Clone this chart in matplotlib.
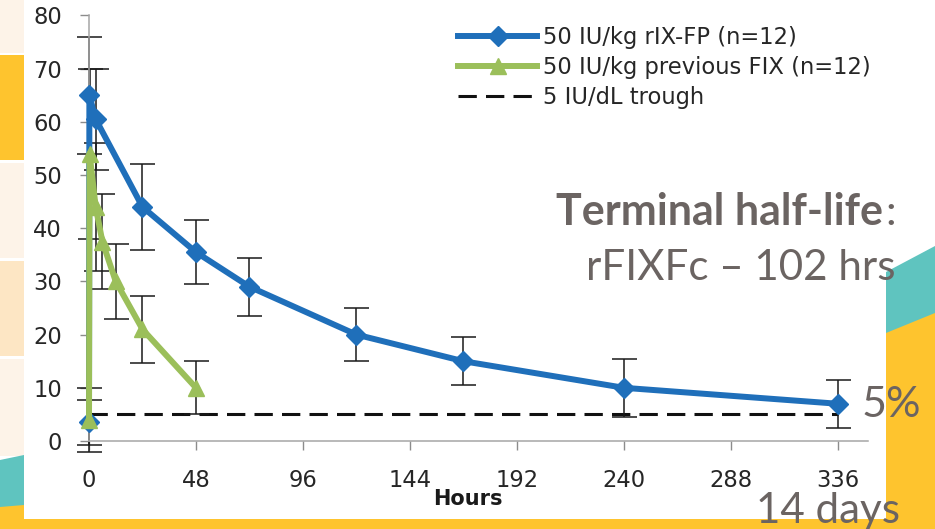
import matplotlib
matplotlib.use("Agg")
from matplotlib import pyplot as plt
from matplotlib.patches import Rectangle, Polygon

# mean FIX activity (IU/dL) with error bars
hours_fp = [0, 0.17, 3, 24, 48, 72, 120, 168, 240, 336]
fix_fp = [3.5, 65, 60.5, 44, 35.5, 29, 20, 15, 10, 7]
err_fp = [4.2, 11, 9.5, 8, 6, 5.5, 5, 4.5, 5.5, 4.5]

hours_prev = [0, 0.25, 3, 6, 12, 24, 48]
fix_prev = [4, 54, 44, 37.5, 30, 21, 10]
err_prev = [6, 16, 12, 9, 7, 6.3, 5]

trough_hours = [0, 336]
trough_level = [5, 5]

xticks = [0, 48, 96, 144, 192, 240, 288, 336]
yticks = [0, 10, 20, 30, 40, 50, 60, 70, 80]
labels = ["50 IU/kg rIX-FP (n=12)", "50 IU/kg previous FIX (n=12)", "5 IU/dL trough"]

W, H = 935, 529
blue = "#1f6fba"
green = "#9bbf5a"
gold = "#fec42e"
teal = "#5fc4bf"
cream = "#fdf3e8"
peach = "#fde6c4"
grey_txt = "#6b6462"

fig = plt.figure(figsize=(W / 100, H / 100), dpi=100)

# slide background in pixel coords, y pointing down
bg = fig.add_axes([0, 0, 1, 1])
bg.set_xlim(0, W)
bg.set_ylim(H, 0)
bg.axis("off")
bg.add_patch(Rectangle((0, 0), W, H, color="white", lw=0))
for y0, y1, c in [(0, 53, cream), (55, 160, gold), (163, 258, cream), (261, 356, peach), (359, 456, cream)]:
    bg.add_patch(Rectangle((0, y0), 24, y1 - y0, color=c, lw=0))
bg.add_patch(Polygon([(0, 460), (24, 455), (24, 519), (0, 519)], color=teal, lw=0))
bg.add_patch(Polygon([(0, 507), (24, 505), (24, 529), (0, 529)], color=gold, lw=0))
bg.add_patch(Polygon([(886, 272), (935, 246), (935, 529), (886, 529)], color=teal, lw=0))
bg.add_patch(Polygon([(886, 333), (935, 313), (935, 529), (886, 529)], color=gold, lw=0))
bg.add_patch(Rectangle((0, 519), W, 10, color=gold, lw=0))

bg.text(556, 225, "Terminal half-life", family="Lato", weight="bold", fontsize=31, color=grey_txt, va="baseline", zorder=10)
bg.text(885, 225, ":", family="Lato", fontsize=31, color=grey_txt, va="baseline", zorder=10)
bg.text(586, 280, "rFIXFc \u2013 102 hrs", family="Lato", fontsize=30.3, color=grey_txt, va="baseline", zorder=10)
bg.text(862, 417, "5%", family="Lato", fontsize=31, color=grey_txt, va="baseline", zorder=10)
bg.text(756, 523, "14 days", family="Lato", fontsize=30.3, color=grey_txt, va="baseline", zorder=10)
bg.text(468, 505, "Hours", fontsize=15, weight="bold", color="#1a1a1a", ha="center", va="baseline", zorder=10)

# the chart itself
ax = fig.add_axes([89 / W, 1 - 441 / H, 779 / W, 425.5 / H])
ax.patch.set_alpha(0)

for h, v, e in [(hours_fp, fix_fp, err_fp), (hours_prev, fix_prev, err_prev)]:
    eb = ax.errorbar(h, v, yerr=e, fmt="none", ecolor="#1a1a1a", elinewidth=1.1, capsize=9, capthick=1.1, zorder=2)
    for a in eb[1] + eb[2]:
        a.set_clip_on(False)

l3, = ax.plot(trough_hours, trough_level, color="#111111", lw=2.2, ls=(0, (6, 3)), zorder=1.5)
l1, = ax.plot(hours_fp, fix_fp, color=blue, lw=4.3, marker="D", ms=10, zorder=3, clip_on=False)
l2, = ax.plot(hours_prev, fix_prev, color=green, lw=4.3, marker="^", ms=11, zorder=4, clip_on=False)

ax.set_xlim(0, 349.5)
ax.set_ylim(0, 80)
ax.set_xticks(xticks)
ax.set_yticks(yticks)
for s in ["top", "right"]:
    ax.spines[s].set_visible(False)
for s in ["left", "bottom"]:
    ax.spines[s].set_color("#a6a6a6")
    ax.spines[s].set_linewidth(1.1)
ax.tick_params(colors="#8c8c8c", labelcolor="#262626", labelsize=16.3, direction="out", length=6.5, width=1)
ax.tick_params(axis="y", pad=13)
ax.tick_params(axis="x", pad=14)

ax.legend([l1, l2, l3], labels, loc="upper left", bbox_to_anchor=(458 / W, 1 - 26 / H),
          bbox_transform=fig.transFigure, frameon=False, fontsize=16.3, labelcolor="#262626",
          handlelength=3.5, handletextpad=0.25, labelspacing=0.3, borderaxespad=0, borderpad=0)

fig.savefig("out.png", dpi=100)
